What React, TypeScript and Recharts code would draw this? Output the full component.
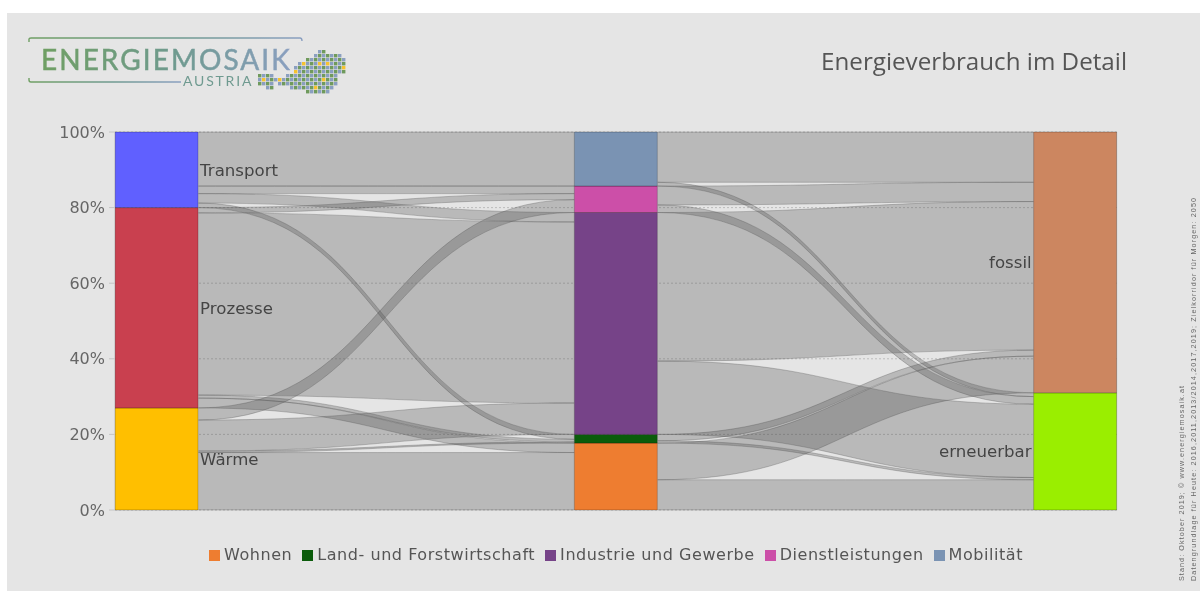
import { ComposedChart, Area, Bar, XAxis, YAxis, CartesianGrid, Legend, LabelList } from 'recharts'

// stacked columns: slot 0 = Energieform, 1 = Sektor, 2 = Herkunft
const sourceNames = ['Wärme', 'Prozesse', 'Transport']
const sourceValues = [27, 53, 20]
const sourceColors = ['#ffbf00', '#c9404f', '#6060ff']

const sectorNames = ['Wohnen', 'Land- und Forstwirtschaft', 'Industrie und Gewerbe', 'Dienstleistungen', 'Mobilität']
const sectorValues = [17.7, 2.3, 58.7, 7, 14.3]
const sectorColors = ['#ee7d30', '#0b5c0b', '#764388', '#cc4fa8', '#7a93b3']

const originNames = ['erneuerbar', 'fossil']
const originValues = [31, 69]
const originColors = ['#9aee00', '#cc8660']

// ribbons: [from low, from high, to low, to high] in %
const flowsLeft = [
  [0, 15.2, 0, 15.2],
  [15.2, 15.6, 17.7, 18],
  [15.6, 23.8, 20, 28.3],
  [23.8, 27, 78.7, 82.1],
  [27, 29.6, 15.2, 17.7],
  [29.6, 30.4, 18, 18.7],
  [30.4, 78.6, 28.3, 76.2],
  [78.6, 80, 82.1, 83.7],
  [80, 81.2, 18.7, 20],
  [81.2, 83.7, 76.2, 78.7],
  [83.7, 85.7, 83.7, 85.7],
  [85.7, 100, 85.7, 100],
]
const flowsRight = [
  [0, 8, 0, 8],
  [8, 17.7, 31, 40.7],
  [17.7, 18.3, 8, 8.6],
  [18.3, 20, 40.7, 42.3],
  [20, 39.4, 8.6, 28],
  [39.4, 78.7, 42.3, 81.6],
  [78.7, 80.7, 28, 30],
  [80.7, 85.7, 81.6, 86.7],
  [85.7, 86.7, 30, 31],
  [86.7, 100, 86.7, 100],
]

const yTicks = [0, 20, 40, 60, 80, 100]

// logo map, one string per row of small squares
const mapRows = [
  '...............oo.....',
  '..............ooooooo.',
  '............oooooooooo',
  '..........oyoooyoyoooo',
  '.........ooooooooooooy',
  '.........yoooooooooooo',
  'oooo...ooooooooooooo..',
  'oyoooyooooooooooyooo..',
  'oooo.ooooooooooooooo..',
  '..oo....ooooooyoooo...',
  '............oooooo....',
]

const COL_HALF = 0.0909
const FONT = '"DejaVu Sans", sans-serif'

const columnRows = [
  { slot: 0, ...Object.fromEntries(sourceNames.map((n, i) => [n, sourceValues[i]])) },
  { slot: 1, ...Object.fromEntries(sectorNames.map((n, i) => [n, sectorValues[i]])) },
  { slot: 2, ...Object.fromEntries(originNames.map((n, i) => [n, originValues[i]])) },
]

function ribbon(flow: number[], slot: number) {
  return [
    { slot: slot + COL_HALF, band: [flow[0], flow[1]] },
    { slot: slot + 1 - COL_HALF, band: [flow[2], flow[3]] },
  ]
}

// same idea as d3 curveBumpX, passed straight to Area type
function bumpX(ctx: any) {
  let line = NaN
  let pt = 0
  let x0 = 0
  let y0 = 0
  return {
    areaStart() { line = 0 },
    areaEnd() { line = NaN },
    lineStart() { pt = 0 },
    lineEnd() {
      if (line || (line !== 0 && pt === 1)) ctx.closePath()
      line = 1 - line
    },
    point(x: number, y: number) {
      x = +x
      y = +y
      if (pt === 0) {
        pt = 1
        if (line) ctx.lineTo(x, y)
        else ctx.moveTo(x, y)
      } else {
        pt = 2
        const mid = (x0 + x) / 2
        ctx.bezierCurveTo(mid, y0, mid, y, x, y)
      }
      x0 = x
      y0 = y
    },
  }
}

function Logo() {
  return (
    <svg width={360} height={100} style={{ position: 'absolute', left: 0, top: 0 }}>
      <defs>
        <linearGradient id="logoText" x1="0" x2="1" y1="0" y2="0">
          <stop offset="0%" stopColor="#6f9f63" />
          <stop offset="55%" stopColor="#6f9a90" />
          <stop offset="100%" stopColor="#8a9fc0" />
        </linearGradient>
      </defs>
      <path d="M29 42 V39 Q29 38 31 38 H300 Q302 38 302 41" fill="none" stroke="url(#logoText)" strokeWidth={1.4} />
      <path d="M29 78 V80 Q29 82 31 82 H181" fill="none" stroke="url(#logoText)" strokeWidth={1.4} />
      <text x={41} y={70} fontFamily="Lato" fontSize={28} letterSpacing={2.05} stroke="url(#logoText)" strokeWidth={0.5} fill="url(#logoText)">ENERGIEMOSAIK</text>
      <text x={183} y={86} fontFamily="Lato" fontSize={14} letterSpacing={1.8} fill="#6f9a90">AUSTRIA</text>
      {mapRows.map((row, r) =>
        row.split('').map((c, i) =>
          c === '.' ? null : (
            <rect
              key={r + '-' + i}
              x={258 + i * 4}
              y={50 + r * 4}
              width={3.4}
              height={3.4}
              fill={c === 'y' ? '#f5c22e' : (r + i) % 2 ? '#8a9fc0' : '#6f9a5c'}
            />
          ),
        ),
      )}
    </svg>
  )
}

export default function App() {
  return (
    <div style={{ position: 'absolute', left: 0, top: 0, width: 1200, height: 591, background: '#fff', overflow: 'hidden' }}>
      <div style={{ position: 'absolute', left: 7, top: 13, width: 1193, height: 578, background: '#e5e5e5' }} />
      <div style={{ position: 'absolute', left: 0, top: 0, width: 1200, height: 591, filter: 'blur(0.7px)' }}>
        <Logo />
        <div style={{ position: 'absolute', right: 73, top: 44, fontFamily: '"Open Sans"', fontSize: 24.2, color: '#555', whiteSpace: 'nowrap' }}>
          Energieverbrauch im Detail
        </div>
        <ComposedChart
          width={1200}
          height={591}
          data={columnRows}
          margin={{ top: 132, right: 75, bottom: 25, left: 55 }}
        >
          <CartesianGrid xAxisId="cols" vertical={false} stroke="#808080" strokeOpacity={0.4} strokeDasharray="2 2" />
          <XAxis xAxisId="cols" dataKey="slot" type="number" domain={[-COL_HALF, 2 + COL_HALF]} hide />
          <XAxis xAxisId="flows" dataKey="slot" type="number" domain={[-COL_HALF, 2 + COL_HALF]} hide />
          <YAxis
            domain={[0, 100]}
            ticks={yTicks}
            width={60}
            tickSize={6}
            tickMargin={4}
            axisLine={false}
            tickLine={{ stroke: '#c4c4c4' }}
            tickFormatter={(v: number) => v + '%'}
            tick={{ fontSize: 16, fill: '#666', fontFamily: FONT }}
          />
          <YAxis
            yAxisId="right"
            orientation="right"
            domain={[0, 100]}
            ticks={yTicks}
            width={8}
            tickSize={8}
            axisLine={false}
            tick={false}
            tickLine={{ stroke: '#c4c4c4' }}
          />
          {flowsLeft.map((f, i) => (
            <Area
              key={'l' + i}
              xAxisId="flows"
              data={ribbon(f, 0)}
              dataKey="band"
              type={bumpX as any}
              fill="#444"
              fillOpacity={0.27}
              stroke="#555"
              strokeOpacity={0.4}
              strokeWidth={0.8}
              dot={false}
              activeDot={false}
              legendType="none"
              isAnimationActive={false}
            />
          ))}
          {flowsRight.map((f, i) => (
            <Area
              key={'r' + i}
              xAxisId="flows"
              data={ribbon(f, 1)}
              dataKey="band"
              type={bumpX as any}
              fill="#444"
              fillOpacity={0.27}
              stroke="#555"
              strokeOpacity={0.4}
              strokeWidth={0.8}
              dot={false}
              activeDot={false}
              legendType="none"
              isAnimationActive={false}
            />
          ))}
          {sourceNames.map((n, i) => (
            <Bar key={n} xAxisId="cols" dataKey={n} stackId="a" barSize={83} fill={sourceColors[i]} stroke="#000" strokeOpacity={0.25} legendType="none" isAnimationActive={false}>
              <LabelList dataKey={n} position="right" offset={2} formatter={() => n} style={{ fontSize: 16.6, fill: '#444', fontFamily: FONT }} />
            </Bar>
          ))}
          {sectorNames.map((n, i) => (
            <Bar key={n} xAxisId="cols" dataKey={n} stackId="a" barSize={83} fill={sectorColors[i]} stroke="#000" strokeOpacity={0.25} isAnimationActive={false} />
          ))}
          {originNames.map((n, i) => (
            <Bar key={n} xAxisId="cols" dataKey={n} stackId="a" barSize={83} fill={originColors[i]} stroke="#000" strokeOpacity={0.25} legendType="none" isAnimationActive={false}>
              <LabelList dataKey={n} position="left" offset={2} formatter={() => n} style={{ fontSize: 16.6, fill: '#444', fontFamily: FONT }} />
            </Bar>
          ))}
          <Legend
            verticalAlign="bottom"
            height={56}
            width={1002}
            iconType="square"
            iconSize={11}
            itemSorter={(item: any) => sectorNames.indexOf(item.value)}
            wrapperStyle={{ left: 120, paddingTop: 35, boxSizing: 'border-box', fontFamily: FONT, fontSize: 16, letterSpacing: 0.55 }}
            formatter={(value: string) => <span style={{ color: '#555' }}>{value}</span>}
          />
        </ComposedChart>
        <svg width={30} height={400} style={{ position: 'absolute', left: 1170, top: 191 }}>
          <text transform="translate(14,390) rotate(-90)" fontFamily="Liberation Sans" fontSize={7.2} fill="#666" textLength={195}>
            Stand: Oktober 2019; © www.energiemosaik.at
          </text>
          <text transform="translate(26,390) rotate(-90)" fontFamily="Liberation Sans" fontSize={7.2} fill="#666" textLength={383}>
            Datengrundlage für Heute: 2016,2011,2013/2014,2017,2019; Zielkorridor für Morgen: 2050
          </text>
        </svg>
      </div>
    </div>
  )
}
